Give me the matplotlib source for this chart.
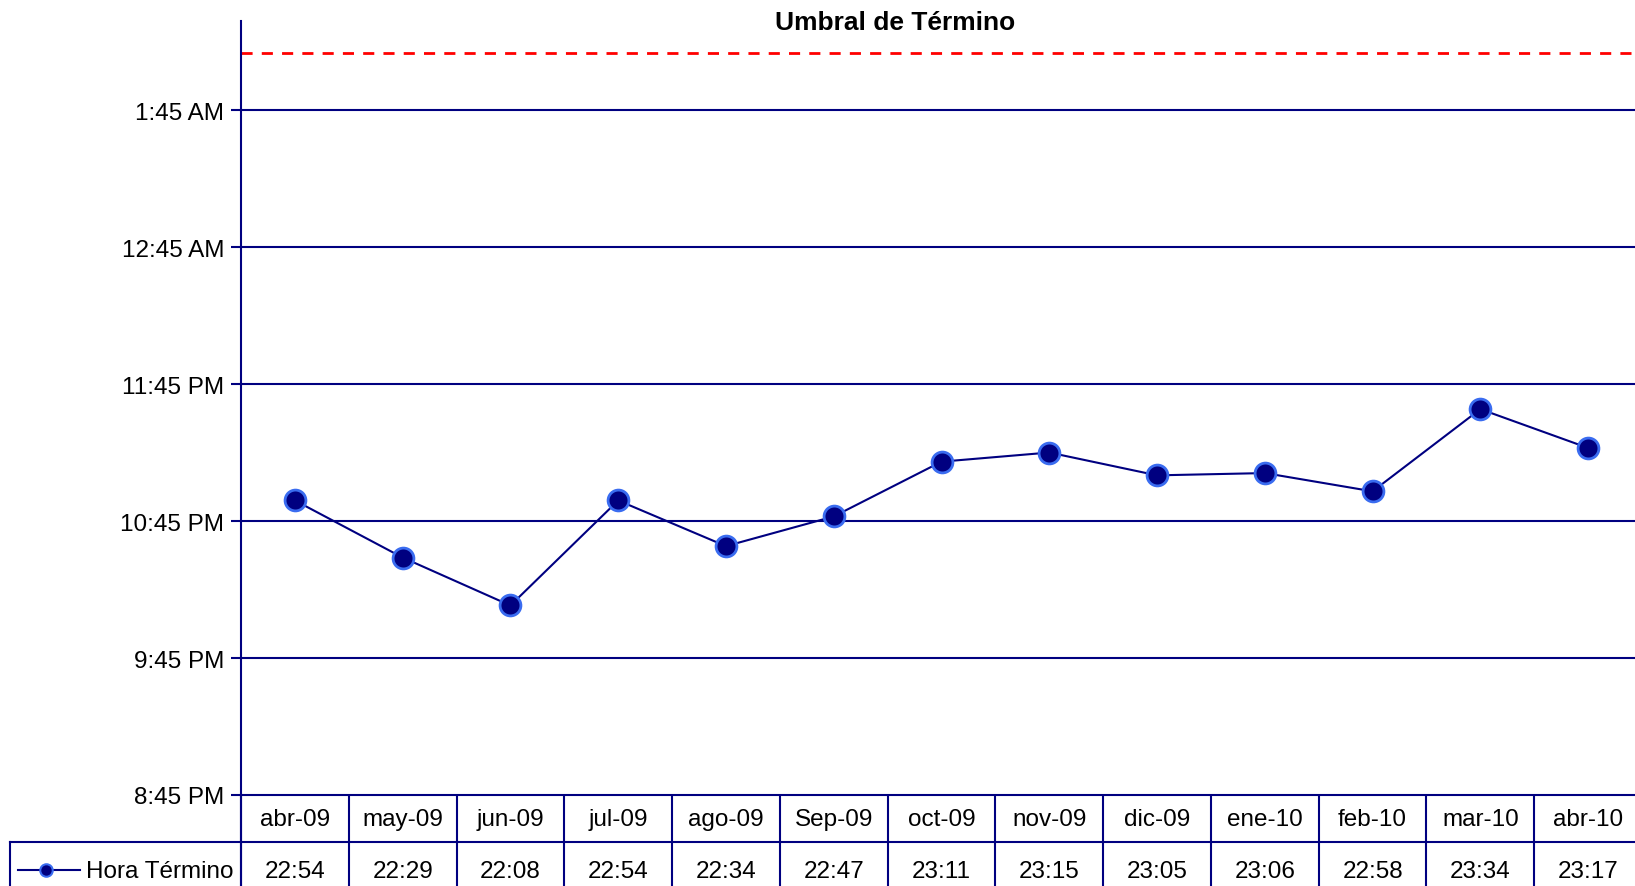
import matplotlib
matplotlib.use("Agg")
import matplotlib.pyplot as plt
import matplotlib.transforms as mtransforms
from matplotlib.lines import Line2D
from matplotlib.ticker import FuncFormatter

# Data
months = ["abr-09", "may-09", "jun-09", "jul-09", "ago-09", "Sep-09", "oct-09",
          "nov-09", "dic-09", "ene-10", "feb-10", "mar-10", "abr-10"]
hora_termino = ["22:54", "22:29", "22:08", "22:54", "22:34", "22:47", "23:11",
                "23:15", "23:05", "23:06", "22:58", "23:34", "23:17"]
series_name = "Hora Término"
umbral = "02:10"
y_ticks = ["20:45", "21:45", "22:45", "23:45", "00:45", "01:45"]
title = "Umbral de Término"


def to_hours(s):
    h, m = (int(v) for v in s.split(":"))
    if h < 12:  # after midnight
        h += 24
    return h + m / 60.0


def fmt_time(v, pos=None):
    total = int(round(v * 60)) % (24 * 60)
    h, m = divmod(total, 60)
    suffix = "AM" if h < 12 else "PM"
    h12 = h % 12 or 12
    return f"{h12}:{m:02d} {suffix}"


NAVY = "#000080"
EDGE = "#3a6cf0"
W, H = 1635, 887
FS = 17.5
plt.rcParams["font.family"] = ["Liberation Sans", "DejaVu Sans"]

fig = plt.figure(figsize=(W / 100, H / 100), dpi=100)
left, right, top, bottom = 241, 1642, 22, 796
ax = fig.add_axes([left / W, 1 - bottom / H, (right - left) / W, (bottom - top) / H])

x = list(range(len(months)))
y = [to_hours(s) for s in hora_termino]
yt = [to_hours(s) for s in y_ticks]

ax.set_xlim(-0.5, len(months) - 0.5)
ax.set_ylim(yt[0], 26.40)

for v in yt[1:]:
    ax.axhline(v, color=NAVY, lw=1.5, zorder=1)
ax.axhline(to_hours(umbral), color="red", lw=2, ls=(0, (4, 3.3)), zorder=1)

ax.plot(x, y, color=NAVY, lw=1.5, marker="o", ms=15, mfc=NAVY,
        mec=EDGE, mew=2, zorder=3)

for s in ["top", "right", "bottom"]:
    ax.spines[s].set_visible(False)
ax.spines["left"].set_color(NAVY)
ax.spines["left"].set_linewidth(1.5)
ax.set_yticks(yt)
ax.yaxis.set_major_formatter(FuncFormatter(fmt_time))
ax.tick_params(axis="y", colors=NAVY, labelcolor="black", labelsize=FS,
               length=7, width=1.5, pad=5)
ax.set_xticks([])

fig.text(895 / W, 1 - 23 / H, title, ha="center", va="center",
         fontsize=19, fontweight="bold")

# Data table below the axis
tr = mtransforms.blended_transform_factory(ax.transData, fig.transFigure)
y_top = 1 - bottom / H
y_mid = 1 - 843 / H
lk = dict(color=NAVY, lw=1.5, clip_on=False)
ax.plot([-0.5, len(months) - 0.5], [y_top, y_top], transform=tr, **lk)
ax.vlines([i - 0.5 for i in range(len(months) + 1)], 0, y_top, transform=tr, **lk)
fig.add_artist(Line2D([9.5 / W, right / W + 0.01], [y_mid, y_mid], **lk))
fig.add_artist(Line2D([9.5 / W, 9.5 / W], [0, y_mid], **lk))
fig.add_artist(Line2D([left / W, left / W], [0, y_top], **lk))

for i, (m, v) in enumerate(zip(months, hora_termino)):
    ax.text(i, 1 - 820 / H, m, transform=tr, ha="center", va="center", fontsize=FS)
    ax.text(i, 1 - 872 / H, v, transform=tr, ha="center", va="center", fontsize=FS)

fig.add_artist(Line2D([18 / W, 80 / W], [1 - 871 / H] * 2, color=NAVY, lw=1.5))
fig.add_artist(Line2D([46 / W], [1 - 871 / H], marker="o", ms=9, mfc=NAVY,
                      mec=EDGE, mew=1.5, lw=0))
fig.text(86 / W, 1 - 872 / H, series_name, ha="left", va="center", fontsize=FS)

fig.savefig("out.png", dpi=100)
